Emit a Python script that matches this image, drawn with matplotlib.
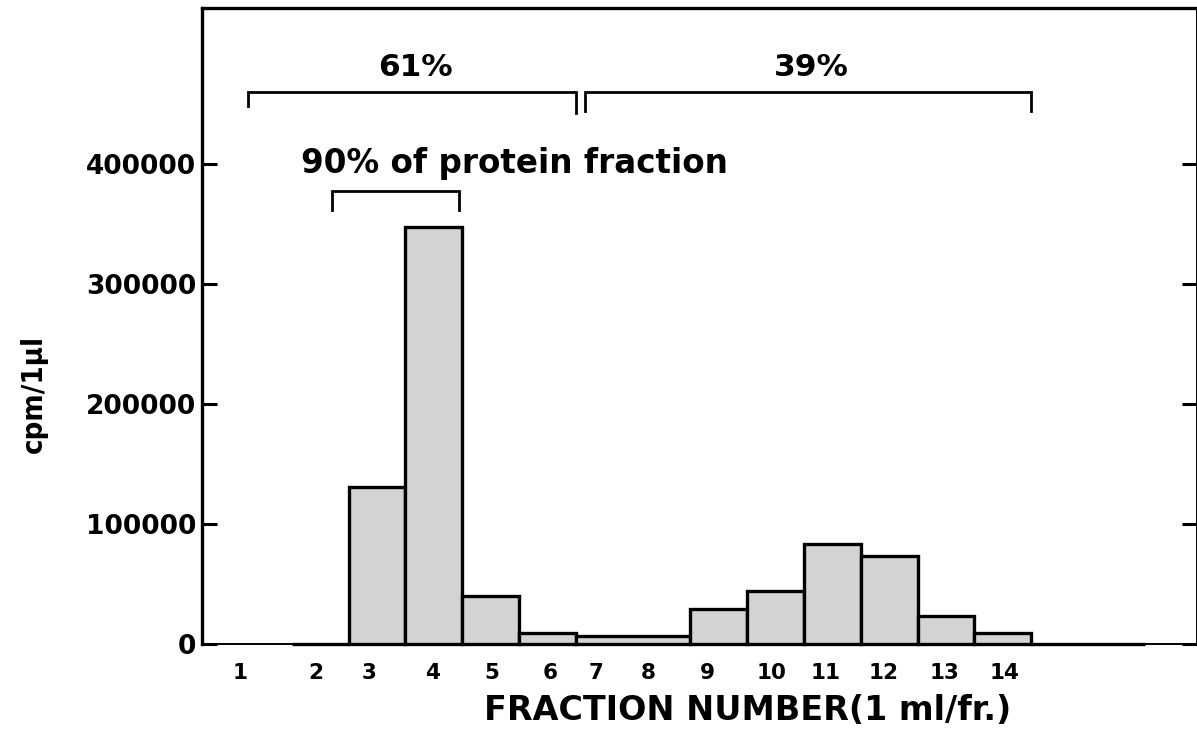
import matplotlib
matplotlib.use("Agg")
import matplotlib.pyplot as plt

# fractions collected (1 ml each) and counts per ul
fractions = [2, 3, 4, 5, 6, 7, 8, 9, 10, 11, 12, 13, 14, 15, 16]
cpm = [0, 131000, 347500, 40000, 9000, 7000, 7000, 29500, 44500, 83300, 73000, 23000, 9500, 0, 0]

tick_labels = ['1', '2', '3', '4', '5', '6', '7', '8', '9', '10', '11', '12', '13', '14']
tick_pos = [0.59, 1.93, 2.86, 3.98, 5.02, 6.04, 6.85, 7.76, 8.80, 9.93, 10.89, 11.91, 12.98, 14.02]

yticks = [0, 100000, 200000, 300000, 400000]

plt.rcParams['font.family'] = ['DejaVu Sans']
plt.rcParams['font.weight'] = 'bold'

W, H = 1197, 731
fig = plt.figure(figsize=(W / 100, H / 100), dpi=100)
ax = fig.add_axes([202 / W, 1 - 644 / H, (W - 202) / W, (644 - 8) / H])

fill = '#d3d3d3'

# adjacent fractions with identical counts are drawn as one block (7 and 8)
i = 0
while i < len(cpm):
    j = i
    while j + 1 < len(cpm) and cpm[j + 1] == cpm[i]:
        j += 1
    ax.bar((fractions[i] + fractions[j]) / 2, cpm[i], width=fractions[j] - fractions[i] + 1,
           color=fill, edgecolor='black', linewidth=2.4, zorder=3, clip_on=False)
    i = j + 1

ax.set_xlim(-0.075, 17.41)
ax.set_ylim(0, 530000)

ax.set_yticks(yticks)
ax.set_yticklabels([str(v) for v in yticks])
ax.set_xticks(tick_pos)
ax.set_xticklabels(tick_labels)

ax.tick_params(axis='y', direction='in', length=10.5, width=2.2, right=True,
               labelsize=19, pad=4)
ax.tick_params(axis='x', length=0, labelsize=15.5, pad=14)

ax.spines['left'].set_linewidth(2.4)
ax.spines['top'].set_linewidth(2.4)
ax.spines['bottom'].set_linewidth(1.4)
ax.spines['right'].set_linewidth(1.4)

# brackets
lw = 2.0
ax.plot([0.733, 0.733, 6.5, 6.5], [448300, 460000, 460000, 442500], color='black', lw=lw, solid_joinstyle='miter')
ax.plot([6.66, 6.66, 14.5, 14.5], [444000, 460000, 460000, 444000], color='black', lw=lw, solid_joinstyle='miter')
ax.plot([2.21, 2.21, 4.44, 4.44], [361700, 377500, 377500, 361700], color='black', lw=lw, solid_joinstyle='miter')

ax.text(3.67, 473300, '61%', ha='center', va='baseline', fontsize=22.5, fontweight='bold')
ax.text(10.63, 473300, '39%', ha='center', va='baseline', fontsize=22.5, fontweight='bold')
ax.text(5.42, 392500, '90% of protein fraction', ha='center', va='baseline', fontsize=23.5, fontweight='bold')

fig.text(748 / W, 1 - 720 / H, 'FRACTION NUMBER(1 ml/fr.)', ha='center', va='baseline',
         fontsize=24, fontweight='bold')
fig.text(34 / W, 1 - 394 / H, 'cpm/1µl', ha='center', va='center', rotation=90,
         fontsize=21, fontweight='bold', fontstretch='condensed')

fig.savefig('out.png', dpi=100)
